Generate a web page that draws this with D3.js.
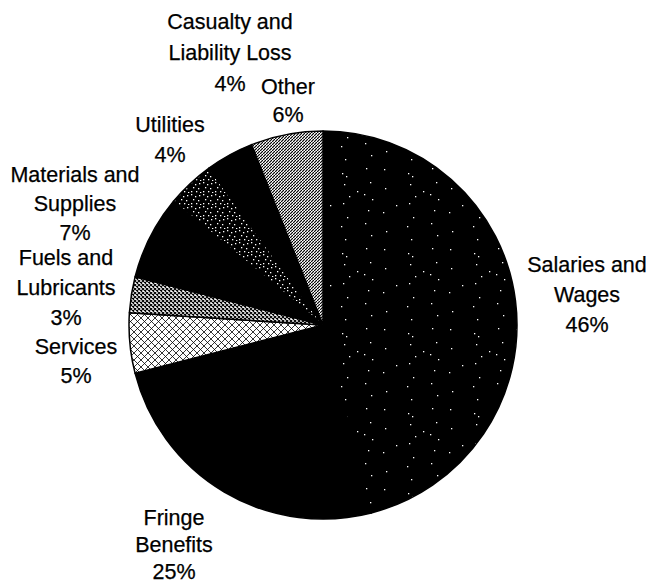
<!DOCTYPE html>
<html>
<head>
<meta charset="utf-8">
<script src="https://cdn.jsdelivr.net/npm/d3@7"></script>
<style>
  html, body { margin: 0; padding: 0; background: #fff; }
  svg { display: block; }
  .label { font-family: "Liberation Sans", Arial, sans-serif; font-size: 21.5px; fill: #000; stroke: #000; stroke-width: 0.25; }
</style>
</head>
<body>
<svg id="chart" width="648" height="583"></svg>
<script>
// data, clockwise from 12 o'clock
const categories = [
  'Salaries and\nWages',
  'Fringe\nBenefits',
  'Services',
  'Fuels and\nLubricants',
  'Materials and\nSupplies',
  'Utilities',
  'Casualty and\nLiability Loss',
  'Other'
]
const shares = [46, 25, 5, 3, 7, 4, 4, 6]
const fills = ['url(#speckle)', '#000', 'url(#hatchLight)', 'url(#hatchDark)', '#000', 'url(#speckleDense)', '#000', 'url(#dither)']

// label placement (centre x, first baseline, line height)
const labelLayout = [
  { x: 587, y: 272, lh: 30 },
  { x: 174, y: 525, lh: 27 },
  { x: 76, y: 354, lh: 29 },
  { x: 66, y: 265, lh: 30 },
  { x: 75, y: 182, lh: 29 },
  { x: 170, y: 132, lh: 30 },
  { x: 230, y: 29, lh: 31 },
  { x: 288, y: 94, lh: 28 }
]

const cx = 323
const cy = 325
const radius = 194

const svg = d3.select('#chart')
const defs = svg.append('defs')

// black with sparse white specks in loose vertical bands
function specklePattern (id, w, h, dots) {
  const p = defs.append('pattern')
    .attr('id', id)
    .attr('patternUnits', 'userSpaceOnUse')
    .attr('x', cx)
    .attr('width', w)
    .attr('height', h)
  p.append('rect').attr('width', w).attr('height', h).attr('fill', '#000')
  p.selectAll('rect.dot')
    .data(dots)
    .enter()
    .append('rect')
      .attr('class', 'dot')
      .attr('x', d => d[0])
      .attr('y', d => d[1])
      .attr('width', 1.3)
      .attr('height', 1.3)
      .attr('fill', '#fff')
}

specklePattern('speckle', 66, 80, [
  [2, 4], [3, 23], [1, 47], [4, 66],
  [26, 8], [30, 11], [28, 19], [33, 31], [27, 38], [31, 52], [25, 61], [29, 74],
  [50, 3], [54, 17], [48, 29], [56, 34], [52, 45], [49, 58], [55, 70],
  [14, 40], [41, 26]
])
specklePattern('speckleDense', 12, 12, [
  [1, 1], [5, 3], [9, 2], [3, 6], [8, 7], [1, 10], [6, 10], [10, 11]
])

function hatchPattern (id, size, width) {
  const p = defs.append('pattern')
    .attr('id', id)
    .attr('patternUnits', 'userSpaceOnUse')
    .attr('width', size)
    .attr('height', size)
  p.append('rect').attr('width', size).attr('height', size).attr('fill', '#fff')
  p.append('path')
    .attr('d', `M0,0L${size},${size}M${size},0L0,${size}`)
    .attr('stroke', '#000')
    .attr('stroke-width', width)
}

hatchPattern('hatchLight', 7, 0.8)
hatchPattern('hatchDark', 4, 1.1)

const dither = defs.append('pattern')
  .attr('id', 'dither')
  .attr('patternUnits', 'userSpaceOnUse')
  .attr('width', 3)
  .attr('height', 3)
dither.append('rect').attr('width', 3).attr('height', 3).attr('fill', '#fff')
dither.append('path')
  .attr('d', 'M0,3L3,0')
  .attr('stroke', '#000')
  .attr('stroke-width', 1.2)

const pie = d3.pie().sort(null).value(d => d)
const arc = d3.arc().innerRadius(0).outerRadius(radius)

const g = svg.append('g').attr('transform', `translate(${cx}, ${cy})`)

g.selectAll('path.slice')
  .data(pie(shares))
  .enter()
  .append('path')
    .attr('class', 'slice')
    .attr('d', arc)
    .attr('fill', (d, i) => fills[i])
    .attr('stroke', '#000')
    .attr('stroke-width', 1.5)
    .attr('stroke-linejoin', 'round')

const labels = svg.selectAll('text.label')
  .data(categories)
  .enter()
  .append('text')
    .attr('class', 'label')
    .attr('text-anchor', 'middle')

labels.each(function (name, i) {
  const pos = labelLayout[i]
  const lines = name.split('\n').concat([shares[i] + '%'])
  d3.select(this)
    .selectAll('tspan')
    .data(lines)
    .enter()
    .append('tspan')
      .attr('x', pos.x)
      .attr('y', (d, j) => pos.y + j * pos.lh)
      .text(d => d)
})
</script>
</body>
</html>
